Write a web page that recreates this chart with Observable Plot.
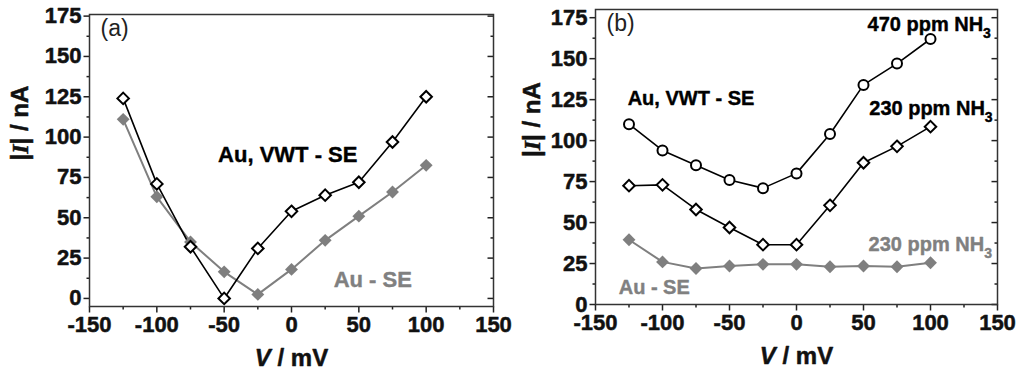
<!DOCTYPE html>
<html>
<head>
<meta charset="utf-8">
<script src="https://cdn.jsdelivr.net/npm/d3@7"></script>
<script src="https://cdn.jsdelivr.net/npm/@observablehq/plot@0.6"></script>
<style>
  html, body { margin: 0; padding: 0; background: #fff; }
  #wrap { display: flex; width: 1024px; height: 372px; }
</style>
</head>
<body>
<div id="wrap"></div>
<script>
// ---- Data ----
const voltages = [-125, -100, -75, -50, -25, 0, 25, 50, 75, 100];
// Panel (a)
const aVWT = [124, 71, 32, 0, 31, 54, 64, 72, 97, 125];
const aSE  = [111, 63, 35, 16.5, 2.5, 18, 36, 51, 66, 82.5];
// Panel (b)
const b470   = [110, 94, 85, 76, 71, 80, 104, 134, 147, 162];
const b230   = [72.5, 73, 58, 47, 36.5, 36.5, 60.5, 86.5, 96.5, 108.5];
const bSE230 = [39.5, 26, 22, 23.5, 24.5, 24.5, 23, 23.5, 23, 25.5];

const xMajor = [-150, -100, -50, 0, 50, 100, 150];
const xMinor = [-125, -75, -25, 25, 75, 125];
const yMajor = [0, 25, 50, 75, 100, 125, 150, 175];
const yMinor = [12.5, 37.5, 62.5, 87.5, 112.5, 137.5, 162.5];

const annA = [
  {label: "Au, VWT - SE", V: -54.5, I: 84.8, color: "black"},
  {label: "Au - SE", V: 31.3, I: 7, color: "gray"}
];
const annB = [
  {label: "Au, VWT - SE", V: -126, I: 121.5, color: "black"},
  {label: "470 ppm NH3", V: 53, I: 166.8, color: "black"},
  {label: "230 ppm NH3", V: 54.3, I: 115.8, color: "black"},
  {label: "230 ppm NH3", V: 53.8, I: 32.5, color: "gray"},
  {label: "Au - SE", V: -132.7, I: 6.5, color: "gray"}
];

const GRAY = "#7f7f7f";
const FONT = "'Liberation Sans', Arial, sans-serif";
const toRows = (ys) => voltages.map((v, i) => ({V: v, I: ys[i]}));

// tick-line symbols
const tickSym = (dx, dy) => ({draw(ctx) { ctx.moveTo(0, 0); ctx.lineTo(dx, dy); }});

function panel({tag, yDomain, mLeft, mRight, mTop, mBottom, series, ann, annSize}) {
  const tk = {stroke: "#222", strokeWidth: 1.5, fill: "none", r: 1};
  const lbl = {fontSize: 22, fontWeight: "bold", fontFamily: FONT, fill: "#111", stroke: "#111", strokeWidth: 0.5};
  const marks = [
    Plot.dot(yMajor, {...tk, y: d => d, frameAnchor: "left", symbol: tickSym(-6, 0)}),
    Plot.dot(yMinor, {...tk, y: d => d, frameAnchor: "left", symbol: tickSym(-3, 0)}),
    Plot.dot(yMajor, {...tk, y: d => d, frameAnchor: "right", symbol: tickSym(-6, 0)}),
    Plot.dot(yMinor, {...tk, y: d => d, frameAnchor: "right", symbol: tickSym(-3, 0)}),
    Plot.dot(xMajor, {...tk, x: d => d, frameAnchor: "bottom", symbol: tickSym(0, 6)}),
    Plot.dot(xMinor, {...tk, x: d => d, frameAnchor: "bottom", symbol: tickSym(0, 3)}),
    Plot.frame({stroke: "#333", strokeWidth: 1.5}),
    Plot.text(yMajor, {...lbl, y: d => d, text: d => String(d), frameAnchor: "left", dx: -8, textAnchor: "end"}),
    Plot.text(xMajor, {...lbl, x: d => d, text: d => String(d), frameAnchor: "bottom", dy: 10, lineAnchor: "top"})
  ];
  for (const s of series) {
    marks.push(Plot.line(toRows(s.values), {x: "V", y: "I", stroke: s.color, strokeWidth: s.lw}));
  }
  for (const s of series) {
    marks.push(Plot.dot(toRows(s.values), {x: "V", y: "I", symbol: s.symbol, r: s.r,
      fill: s.filled ? s.color : "white", stroke: s.filled ? "none" : s.color, strokeWidth: 2}));
  }
  marks.push(Plot.text(ann, {x: "V", y: "I", text: "label", fill: "color", stroke: "color", strokeWidth: 0.4,
    textAnchor: "start", lineAnchor: "bottom", fontSize: annSize, fontWeight: "bold", fontFamily: FONT}));
  marks.push(Plot.text([tag], {frameAnchor: "top-left", dx: 11, dy: 5, fontSize: 23, fontWeight: "normal",
    textAnchor: "start", lineAnchor: "top", fontFamily: FONT}));
  marks.push(Plot.text(["|I| / nA"], {...lbl, fontSize: 24, frameAnchor: "left", dx: -(mLeft - 20), rotate: -90}));
  marks.push(Plot.text(["V / mV"], {...lbl, fontSize: 24, frameAnchor: "bottom", dy: 59, lineAnchor: "bottom"}));

  const svg = Plot.plot({
    width: 512, height: 372,
    marginLeft: mLeft, marginRight: mRight, marginTop: mTop, marginBottom: mBottom,
    style: {fontFamily: FONT, fontSize: "21px", fontWeight: "bold", color: "#222", background: "white", overflow: "visible"},
    x: {domain: [-150, 150], axis: null},
    y: {domain: yDomain, axis: null},
    marks
  });
  svg.querySelectorAll("text").forEach(t => {
    const s = t.textContent;
    if (s === "|I| / nA") {
      t.innerHTML = '|<tspan font-family="Liberation Serif, serif" font-style="italic">I</tspan>| / nA';
    } else if (s === "V / mV") {
      t.innerHTML = '<tspan font-style="italic">V</tspan> / mV';
    } else if (/NH3$/.test(s)) {
      t.innerHTML = s.replace(/NH3$/, 'NH<tspan font-size="14" dy="7">3</tspan>');
    }
  });
  return svg;
}

const wrap = document.getElementById("wrap");
wrap.appendChild(panel({
  tag: "(a)", yDomain: [-5, 176], mLeft: 89, mRight: 19, mTop: 14, mBottom: 66, annSize: 22,
  series: [
    {values: aSE, color: GRAY, symbol: "diamond2", r: 5.8, filled: true, lw: 2},
    {values: aVWT, color: "black", symbol: "diamond2", r: 5.2, filled: false, lw: 1.6}
  ],
  ann: annA
}));
wrap.appendChild(panel({
  tag: "(b)", yDomain: [0, 180], mLeft: 83, mRight: 27, mTop: 9, mBottom: 68, annSize: 20,
  series: [
    {values: bSE230, color: GRAY, symbol: "diamond2", r: 5.8, filled: true, lw: 2},
    {values: b230, color: "black", symbol: "diamond2", r: 5.2, filled: false, lw: 1.6},
    {values: b470, color: "black", symbol: "circle", r: 5, filled: false, lw: 1.6}
  ],
  ann: annB
}));
</script>
</body>
</html>
